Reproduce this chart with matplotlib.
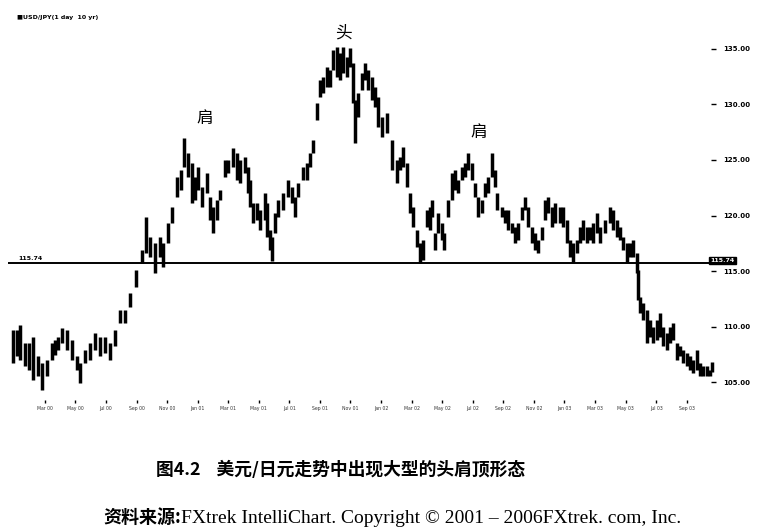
"""
USD/JPY 日线图：头肩顶形态（图 4.2 复刻）
"""

import numpy as np
import matplotlib
matplotlib.use('Agg')
import matplotlib.pyplot as plt
from matplotlib.transforms import offset_copy

# 交易日序号（从起点算起）
days = [0, 6, 11, 19, 26, 32, 40, 46, 54, 62, 67, 72, 78, 86, 94, 102, 107, 115,
        123, 131, 139, 147, 155, 163, 171, 179, 187, 197, 206, 213, 219, 227, 235,
        240, 248, 254, 262, 269, 274, 280, 286, 291, 296, 302, 310, 315, 320, 326,
        331, 339, 344, 352, 358, 363, 371, 376, 379, 384, 390, 395, 403, 406, 411,
        414, 419, 424, 432, 440, 446, 451, 456, 464, 470, 475, 480, 486, 491, 496,
        502, 507, 512, 518, 523, 528, 534, 539, 544, 547, 552, 558, 563, 568, 574,
        579, 584, 590, 598, 606, 614, 619, 624, 630, 635, 640, 646, 651, 656, 662,
        667, 670, 675, 680, 686, 690, 696, 702, 707, 712, 718, 723, 728, 734, 739,
        744, 750, 755, 760, 766, 771, 774, 782, 787, 792, 798, 803, 808, 814, 819,
        824, 830, 835, 840, 846, 851, 856, 862, 867, 875, 880, 886, 891, 896, 902,
        907, 912, 918, 923, 928, 934, 939, 947, 955, 960, 966, 971, 976, 982, 987,
        992, 998, 1000, 1003, 1008, 1014, 1019, 1024, 1030, 1035, 1040, 1046, 1051,
        1056, 1062, 1067, 1072, 1078, 1083, 1088, 1094, 1099, 1104, 1110, 1115, 1118]

highs = [109.7, 109.7, 110.1, 108.5, 108.5, 109.1, 107.3, 106.7, 107.0, 108.5, 108.8,
         109.1, 109.9, 109.7, 108.8, 107.3, 106.7, 107.9, 108.5, 109.4, 109.1, 109.1,
         108.5, 109.7, 111.5, 111.5, 113.0, 115.1, 116.9, 119.9, 118.1, 117.5, 118.1,
         117.5, 119.3, 120.8, 123.5, 124.1, 127.0, 125.6, 124.7, 123.5, 124.4, 122.6,
         123.8, 121.7, 120.8, 121.4, 122.3, 125.0, 125.0, 126.1, 125.6, 125.0, 125.3,
         124.4, 123.2, 121.1, 121.1, 120.5, 122.0, 121.1, 118.7, 118.1, 120.2, 121.4,
         122.0, 123.2, 122.6, 121.7, 122.9, 124.4, 124.7, 125.6, 126.8, 130.1, 132.2,
         132.5, 133.4, 133.1, 134.9, 135.2, 134.6, 135.2, 134.3, 135.1, 133.7, 130.4,
         131.0, 132.8, 133.7, 133.1, 132.5, 131.6, 130.7, 128.9, 129.2, 126.8, 125.0,
         125.3, 126.2, 124.7, 122.0, 120.8, 118.7, 117.5, 117.8, 120.5, 120.8, 121.4,
         118.4, 120.2, 119.3, 118.4, 121.4, 123.8, 124.1, 123.2, 124.4, 124.7, 125.6,
         124.7, 122.9, 121.7, 121.4, 122.9, 123.5, 125.6, 124.1, 122.0, 120.8, 120.5,
         120.5, 119.3, 119.0, 119.3, 120.8, 121.7, 120.8, 119.0, 118.4, 117.8, 119.0,
         121.4, 121.7, 120.8, 121.1, 120.8, 120.8, 119.6, 117.8, 117.5, 117.8, 119.0,
         119.6, 119.0, 119.0, 119.3, 120.2, 119.0, 119.6, 120.8, 120.5, 119.6, 119.0,
         118.1, 117.5, 117.5, 117.8, 116.6, 115.1, 112.7, 112.1, 111.5, 110.6, 110.0,
         110.6, 111.2, 110.0, 109.4, 110.0, 110.3, 108.5, 108.2, 107.9, 107.6, 107.3,
         107.0, 107.9, 106.7, 106.4, 106.4, 106.1, 106.8]

lows = [106.7, 107.3, 107.0, 106.4, 106.1, 105.2, 105.5, 104.3, 105.5, 107.0, 107.4,
        107.9, 108.5, 107.9, 107.0, 106.1, 104.9, 106.7, 107.0, 107.9, 107.3, 107.6,
        107.0, 108.2, 110.3, 110.3, 111.8, 113.6, 115.7, 116.6, 116.3, 114.8, 116.3,
        115.4, 117.5, 119.3, 121.7, 122.3, 124.4, 123.5, 121.1, 121.4, 122.3, 120.8,
        122.0, 119.6, 118.4, 119.6, 121.4, 123.5, 123.8, 124.4, 123.2, 122.9, 123.8,
        122.0, 120.8, 119.3, 119.6, 118.7, 119.6, 118.1, 116.9, 115.9, 118.4, 119.9,
        120.5, 121.7, 121.1, 119.9, 121.7, 123.2, 123.2, 124.4, 125.6, 128.6, 130.7,
        131.0, 131.6, 131.6, 133.1, 132.5, 132.2, 132.8, 132.5, 133.4, 130.1, 126.5,
        128.9, 131.3, 132.2, 131.3, 130.4, 129.8, 128.0, 127.1, 127.4, 124.1, 122.9,
        124.1, 124.4, 122.6, 120.2, 119.0, 117.2, 115.7, 116.0, 119.0, 118.7, 119.9,
        116.9, 118.4, 117.8, 116.9, 119.9, 121.4, 122.3, 122.0, 123.2, 123.5, 124.1,
        123.2, 121.7, 119.9, 120.2, 121.7, 122.0, 123.5, 122.6, 120.5, 119.9, 119.3,
        118.7, 118.4, 117.5, 117.8, 119.6, 120.5, 119.0, 117.5, 116.9, 116.6, 117.8,
        119.6, 120.2, 119.0, 119.3, 119.3, 119.0, 117.5, 116.3, 115.8, 116.6, 117.5,
        117.8, 117.5, 117.8, 117.5, 118.4, 117.5, 118.4, 119.3, 118.7, 118.1, 117.8,
        116.9, 115.8, 116.3, 116.3, 114.8, 112.4, 111.2, 110.6, 108.5, 109.1, 108.5,
        108.8, 109.1, 108.2, 107.9, 108.5, 108.8, 107.0, 107.3, 106.7, 106.4, 106.1,
        105.8, 106.1, 105.5, 105.5, 105.5, 105.5, 105.9]

neckline = 115.74
price_ticks = [105, 110, 115, 120, 125, 130, 135]
date_labels = ['Mar 00', 'May 00', 'Jul 00', 'Sep 00', 'Nov 00', 'Jan 01', 'Mar 01',
               'May 01', 'Jul 01', 'Sep 01', 'Nov 01', 'Jan 02', 'Mar 02', 'May 02',
               'Jul 02', 'Sep 02', 'Nov 02', 'Jan 03', 'Mar 03', 'May 03', 'Jul 03',
               'Sep 03']

cjk = ['Noto Sans CJK SC', 'DejaVu Sans']
serif_cjk = ['Liberation Serif', 'Noto Sans CJK SC']

fig = plt.figure(figsize=(7.75, 5.30), dpi=100)
ax = fig.add_axes([8 / 775, 1 - 400 / 530, 708 / 775, 365 / 530])

# 价格棒线
ax.vlines(days, lows, highs, color='black', linewidth=2.5)

# 颈线
ax.axhline(neckline, color='black', linewidth=1.4)
ax.text(8, neckline + 0.15, f'{neckline:.2f}', fontsize=4.5, fontweight='bold',
        ha='left', va='bottom')
ax.text(0.992, neckline + 0.2, f'{neckline:.2f}', transform=ax.get_yaxis_transform(),
        fontsize=4.5, fontweight='bold', color='white', ha='left', va='center',
        bbox=dict(boxstyle='square,pad=0.2', facecolor='black', edgecolor='black'))

ax.set_xlim(-8, 1125)
ax.set_ylim(103.38, 136.26)

for side in ['top', 'right', 'left', 'bottom']:
    ax.spines[side].set_visible(False)

ax.yaxis.tick_right()
ax.set_yticks(price_ticks)
ax.set_yticklabels([f'{p:.2f}' for p in price_ticks], fontsize=5, fontweight='bold')
ax.tick_params(axis='y', direction='in', length=3.5, width=1, pad=5)

ax.set_xticks(np.linspace(51, 1078, len(date_labels)))
ax.set_xticklabels(date_labels, fontsize=3.3, color='#333333')
ax.tick_params(axis='x', length=2.5, width=1, pad=2)

# 头肩标注
ax.text(307, 128.0, '肩', family=cjk, fontsize=12, ha='center', va='bottom')
ax.text(528, 135.7, '头', family=cjk, fontsize=12, ha='center', va='bottom')
ax.text(745, 126.7, '肩', family=cjk, fontsize=12, ha='center', va='bottom')

fig.text(17 / 775, 1 - 17 / 530, '■USD/JPY(1 day  10 yr)', fontsize=4.5,
         fontweight='bold', ha='left', va='center')

fig.text(341 / 775, 1 - 470 / 530, '图4.2    美元/日元走势中出现大型的头肩顶形态',
         family=cjk, fontsize=12.8, fontweight='bold', ha='center', va='center')

# 资料来源：中文部分黑体加粗，英文部分衬线体
src_y = 1 - 523 / 530
head = fig.text(103 / 775, src_y, '资料来源:', family=cjk, fontsize=13,
                fontweight='bold', ha='left', va='baseline')
fig.canvas.draw()
head_w = head.get_window_extent().width
fig.text(103 / 775, src_y,
         'FXtrek IntelliChart. Copyright © 2001 – 2006FXtrek. com, Inc.',
         family=serif_cjk, fontsize=14, ha='left', va='baseline',
         transform=offset_copy(fig.transFigure, fig=fig, x=head_w * 72 / fig.dpi,
                               y=0, units='points'))

fig.savefig('out.png', dpi=100, facecolor='white')
print("Saved: out.png")
